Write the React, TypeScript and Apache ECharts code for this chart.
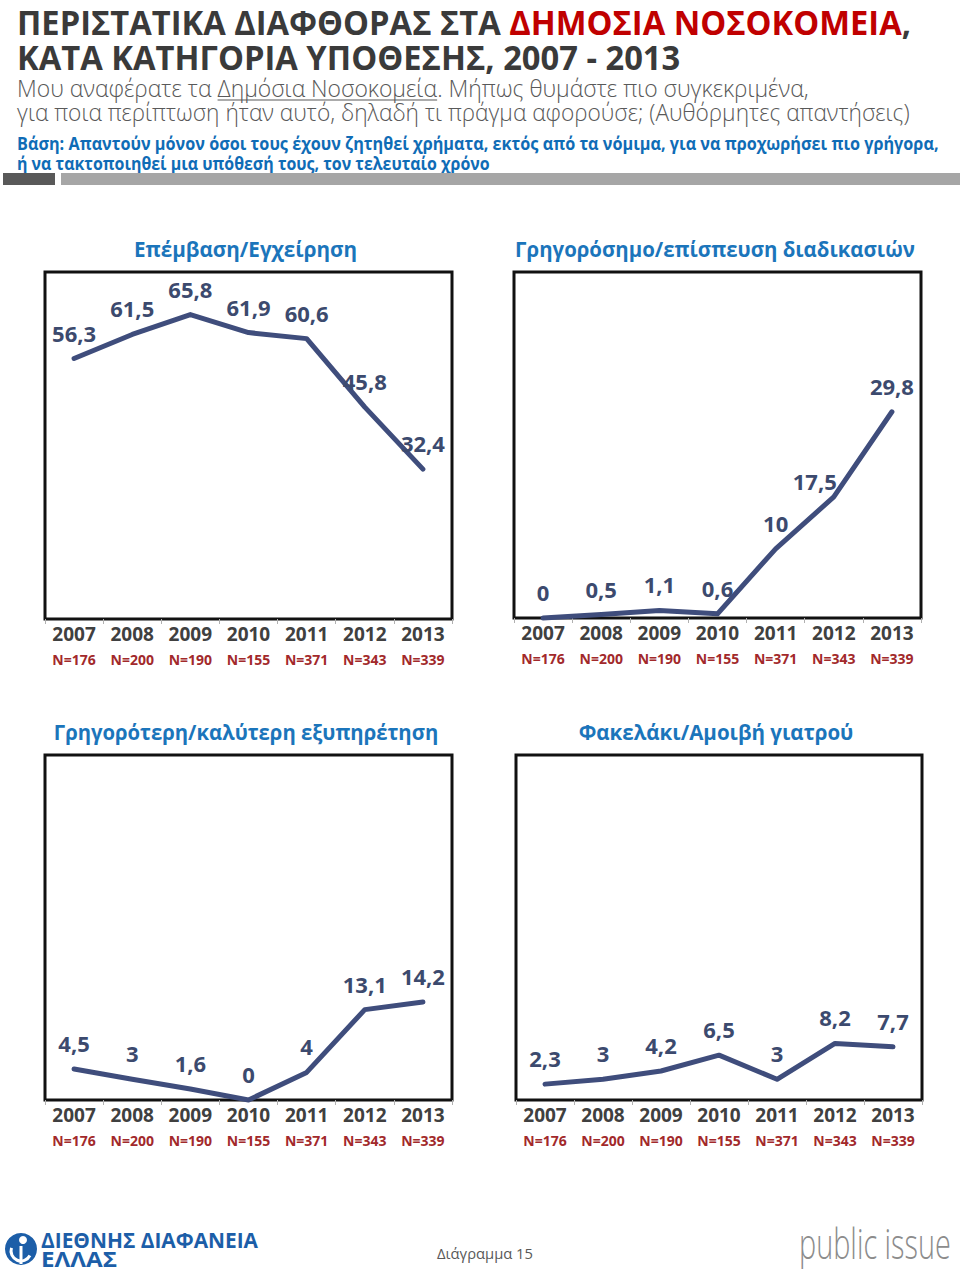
import React, { useEffect, useRef } from "react";
import * as echarts from "echarts";

const years = ["2007", "2008", "2009", "2010", "2011", "2012", "2013"];
const sampleSizes = ["N=176", "N=200", "N=190", "N=155", "N=371", "N=343", "N=339"];
const surgery = [56.3, 61.5, 65.8, 61.9, 60.6, 45.8, 32.4];
const fastTrack = [0, 0.5, 1.1, 0.6, 10, 17.5, 29.8];
const betterService = [4.5, 3, 1.6, 0, 4, 13.1, 14.2];
const envelope = [2.3, 3, 4.2, 6.5, 3, 8.2, 7.7];
const panelTitles = [
  "Επέμβαση/Εγχείρηση",
  "Γρηγορόσημο/επίσπευση διαδικασιών",
  "Γρηγορότερη/καλύτερη εξυπηρέτηση",
  "Φακελάκι/Αμοιβή γιατρού",
];

const FONT = '"Open Sans", "Noto Sans", sans-serif';
const LINE = "#3f4d7c";
const LABEL = "#3c4a6e";

let measureCtx: CanvasRenderingContext2D | null = null;
function measure(text: string, size: number, weight: string | number) {
  if (!measureCtx) measureCtx = document.createElement("canvas").getContext("2d");
  measureCtx!.font = `${weight} ${size}px ${FONT}`;
  return measureCtx!.measureText(text).width;
}

type Seg = { text: string; color: string; underline?: boolean };

function fittedLine(segs: Seg[], x: number, y: number, width: number, size: number, weight: string | number) {
  const full = segs.map((s) => s.text).join("");
  const s = width / measure(full, size, weight);
  const els: any[] = [];
  let prefix = "";
  for (const seg of segs) {
    const px = x + s * measure(prefix, size, weight);
    els.push({
      type: "text",
      x: px,
      y,
      scaleX: s,
      style: {
        text: seg.text,
        fill: seg.color,
        font: `${weight} ${size}px ${FONT}`,
        textAlign: "left",
        textVerticalAlign: "middle",
      },
    });
    if (seg.underline) {
      const w = s * measure(seg.text, size, weight);
      els.push({
        type: "line",
        shape: { x1: px, y1: y + size * 0.5, x2: px + w, y2: y + size * 0.5 },
        style: { stroke: seg.color, lineWidth: 1.2 },
      });
    }
    prefix += seg.text;
  }
  return els;
}

function centeredText(text: string, cx: number, y: number, width: number, size: number, weight: string | number, color: string) {
  const s = width / measure(text, size, weight);
  return {
    type: "text",
    x: cx,
    y,
    scaleX: s,
    style: {
      text: text,
      fill: color,
      font: `${weight} ${size}px ${FONT}`,
      textAlign: "center",
      textVerticalAlign: "middle",
    },
  };
}

const grids = [
  { left: 45, top: 272, width: 407, height: 347 },
  { left: 514, top: 272, width: 407, height: 346 },
  { left: 45, top: 755, width: 407, height: 345 },
  { left: 516, top: 755, width: 406, height: 345 },
];
const yMax = [75, 50, 50, 50];
const seriesData = [surgery, fastTrack, betterService, envelope];

export default function App() {
  const ref = useRef<HTMLDivElement>(null);
  useEffect(() => {
    const chart = echarts.init(ref.current!, null, { renderer: "svg" });

    const graphics: any[] = [];
    graphics.push(
      ...fittedLine(
        [
          { text: "ΠΕΡΙΣΤΑΤΙΚΑ ΔΙΑΦΘΟΡΑΣ ΣΤΑ ", color: "#3a3a3a" },
          { text: "ΔΗΜΟΣΙΑ ΝΟΣΟΚΟΜΕΙΑ", color: "#c00000" },
          { text: ",", color: "#3a3a3a" },
        ],
        17, 22, 894, 34, "bold"
      )
    );
    graphics.push(...fittedLine([{ text: "ΚΑΤΑ ΚΑΤΗΓΟΡΙΑ ΥΠΟΘΕΣΗΣ, 2007 - 2013", color: "#3a3a3a" }], 17, 57, 663, 34, "bold"));
    graphics.push(
      ...fittedLine(
        [
          { text: "Μου αναφέρατε τα ", color: "#595959" },
          { text: "Δημόσια Νοσοκομεία", color: "#595959", underline: true },
          { text: ". Μήπως θυμάστε πιο συγκεκριμένα,", color: "#595959" },
        ],
        17, 88, 792, 24, 300
      )
    );
    graphics.push(
      ...fittedLine(
        [{ text: "για ποια περίπτωση ήταν αυτό, δηλαδή τι πράγμα αφορούσε; (Αυθόρμητες απαντήσεις)", color: "#595959" }],
        17, 112, 893, 24, 300
      )
    );
    graphics.push(
      ...fittedLine(
        [{ text: "Βάση: Απαντούν μόνον όσοι τους έχουν ζητηθεί χρήματα, εκτός από τα νόμιμα, για να προχωρήσει πιο γρήγορα,", color: "#0f6cb6" }],
        17, 143, 922, 17, "bold"
      )
    );
    graphics.push(
      ...fittedLine([{ text: "ή να τακτοποιηθεί μια υπόθεσή τους, τον τελευταίο χρόνο", color: "#0f6cb6" }], 17, 163, 473, 17, "bold")
    );
    graphics.push({ type: "rect", shape: { x: 3, y: 173, width: 52, height: 12 }, style: { fill: "#595959" } });
    graphics.push({ type: "rect", shape: { x: 61, y: 173, width: 899, height: 12 }, style: { fill: "#a6a6a6" } });

    // panel titles
    graphics.push(centeredText(panelTitles[0], 245.5, 248, 223, 22, "bold", "#1b75bb"));
    graphics.push(centeredText(panelTitles[1], 715, 248, 400, 22, "bold", "#1b75bb"));
    graphics.push(centeredText(panelTitles[2], 246, 731, 385, 22, "bold", "#1b75bb"));
    graphics.push(centeredText(panelTitles[3], 716, 731, 275, 22, "bold", "#1b75bb"));

    // footer
    graphics.push({ type: "circle", shape: { cx: 21, cy: 1249, r: 16 }, style: { fill: "#1c5ea8" } });
    graphics.push({ type: "circle", shape: { cx: 23, cy: 1240, r: 4 }, style: { fill: "#ffffff" } });
    graphics.push({
      type: "arc",
      shape: { cx: 21, cy: 1251, r: 10, startAngle: Math.PI * 0.15, endAngle: Math.PI * 1.1 },
      style: { stroke: "#ffffff", lineWidth: 3, fill: "none" },
    });
    graphics.push({ type: "line", shape: { x1: 21, y1: 1246, x2: 21, y2: 1264 }, style: { stroke: "#ffffff", lineWidth: 3 } });
    graphics.push(...fittedLine([{ text: "ΔΙΕΘΝΗΣ ΔΙΑΦΑΝΕΙΑ", color: "#1c5ea8" }], 41, 1239, 217, 22, "bold"));
    graphics.push(...fittedLine([{ text: "ΕΛΛΑΣ", color: "#1c5ea8" }], 41, 1258, 76, 22, "bold"));
    graphics.push(centeredText("Διάγραμμα 15", 485, 1254, 96, 14, "normal", "#595959"));
    graphics.push(...fittedLine([{ text: "public issue", color: "#8c8c8c" }], 799, 1243, 152, 42, 300));

    const option: any = {
      animation: false,
      backgroundColor: "#ffffff",
      grid: grids.map((g) => ({
        ...g,
        show: true,
        borderColor: "#111111",
        borderWidth: 3,
        backgroundColor: "transparent",
        containLabel: false,
      })),
      xAxis: grids.map((_, i) => ({
        type: "category",
        gridIndex: i,
        data: years.map((y, j) => `{y|${y}}\n{n|${sampleSizes[j]}}`),
        boundaryGap: true,
        axisLine: { show: false },
        axisTick: { show: true, length: 5, lineStyle: { color: "#b0b0b0", width: 1 } },
        splitLine: { show: false },
        axisLabel: {
          interval: 0,
          margin: 4,
          formatter: (v: string) => v,
          rich: {
            y: { fontSize: 19, fontWeight: "bold", color: "#404040", lineHeight: 22, fontFamily: FONT },
            n: { fontSize: 14, fontWeight: "bold", color: "#a2292b", lineHeight: 28, fontFamily: FONT },
          },
        },
      })),
      yAxis: grids.map((_, i) => ({
        type: "value",
        gridIndex: i,
        min: 0,
        max: yMax[i],
        show: false,
        splitLine: { show: false },
      })),
      series: seriesData.map((d, i) => ({
        type: "line",
        xAxisIndex: i,
        yAxisIndex: i,
        data: d,
        symbol: "circle",
        symbolSize: 2,
        showSymbol: true,
        itemStyle: { color: LINE },
        clip: false,
        lineStyle: { color: LINE, width: 5, cap: "round", join: "round" },
        label: {
          show: true,
          position: "top",
          distance: 14,
          color: LABEL,
          fontSize: 22,
          fontWeight: "bold",
          fontFamily: FONT,
          formatter: (p: any) => String(p.value).replace(".", ","),
        },
        labelLayout: (p: any) => {
          if (i === 1 && p.dataIndex === 5) {
            return { dx: -19, dy: 10, hideOverlap: false };
          }
          return { hideOverlap: false };
        },
        z: 3,
      })),
      graphic: graphics,
    };
    chart.setOption(option);
    return () => chart.dispose();
  }, []);
  return (
    <div
      ref={ref}
      style={{ position: "absolute", left: 0, top: 0, width: 960, height: 1280, background: "#fff" }}
    />
  );
}
